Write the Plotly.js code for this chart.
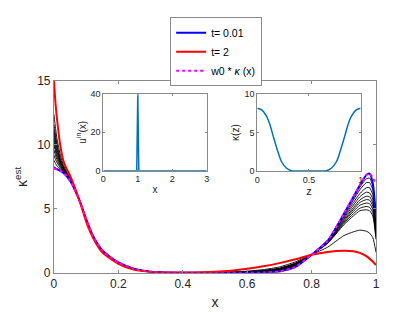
<!DOCTYPE html>
<html><head><meta charset="utf-8">
<script src="https://cdn.plot.ly/plotly-3.0.1.min.js"></script>
<style>html,body{margin:0;padding:0;background:#fff}#chart{width:415px;height:312px}</style>
</head><body><div id="chart"></div>
<script>
// main x grid
const X = [0,0.005,0.01,0.02,0.03,0.04,0.05,0.06,0.08,0.1,0.12,0.15,0.2,0.25,0.3,0.35,0.4,0.5,0.55,0.6,0.65,0.7,0.75,0.8,0.85,0.9,0.93,0.95,0.97,0.98,0.99,1];
const blueT001 = [8.25,8.15,8.1,7.98,7.8,7.55,7.2,6.75,5.6,4.2,2.95,1.75,0.8,0.3,0.08,0.01,0,0,0,0,0.01,0.1,0.45,1.4,2.5,4.6,5.95,6.85,7.65,7.75,7.0,4.3];
const redT2 = [15,13.2,11.9,9.9,8.7,8.1,7.6,7.0,5.6,4.0,2.8,1.6,0.7,0.22,0.06,0.02,0.02,0.08,0.16,0.3,0.5,0.75,1.05,1.4,1.62,1.72,1.68,1.55,1.3,1.1,0.88,0.6];
const w0kappa = [8.15,8.13,8.1,7.98,7.8,7.55,7.2,6.75,5.6,4.2,2.95,1.75,0.8,0.3,0.08,0.01,0,0,0,0,0.01,0.1,0.45,1.4,2.5,4.6,5.95,6.85,7.65,7.78,7.4,7.0];
const b1 = [8.8,8.55,8.35,8.1,7.85,7.58,7.22,6.77,5.6,4.18,2.93,1.74,0.79,0.3,0.08,0.01,0,0,0,0.01,0.02,0.12,0.48,1.4,2.5,4.55,5.85,6.7,7.35,7.4,6.8,4.2];
const b2 = [9.2,8.85,8.6,8.2,7.9,7.6,7.23,6.78,5.6,4.17,2.92,1.73,0.78,0.29,0.08,0.01,0,0,0.01,0.02,0.04,0.15,0.52,1.4,2.48,4.45,5.7,6.5,7.05,7.05,6.5,4.0];
const b3 = [9.6,9.15,8.8,8.3,7.95,7.62,7.25,6.8,5.6,4.16,2.91,1.72,0.78,0.29,0.08,0.01,0,0.01,0.01,0.03,0.06,0.18,0.56,1.4,2.45,4.35,5.5,6.2,6.65,6.65,6.1,3.8];
const b4 = [10.0,9.45,9.0,8.4,8.0,7.65,7.27,6.82,5.6,4.15,2.9,1.71,0.77,0.28,0.07,0.01,0,0.01,0.02,0.04,0.08,0.21,0.6,1.4,2.43,4.25,5.3,5.95,6.3,6.25,5.75,3.6];
const b5 = [10.3,9.7,9.2,8.5,8.05,7.68,7.3,6.84,5.6,4.14,2.9,1.71,0.77,0.28,0.07,0.01,0,0.01,0.02,0.05,0.1,0.24,0.63,1.41,2.4,4.15,5.1,5.7,5.98,5.95,5.45,3.4];
const b6 = [10.6,9.95,9.4,8.6,8.1,7.7,7.32,6.86,5.6,4.13,2.89,1.7,0.76,0.28,0.07,0.01,0.01,0.01,0.03,0.06,0.12,0.27,0.67,1.41,2.38,4.05,4.95,5.5,5.72,5.68,5.2,3.2];
const b7 = [10.9,10.2,9.6,8.7,8.15,7.72,7.34,6.88,5.6,4.12,2.89,1.7,0.76,0.27,0.07,0.01,0.01,0.01,0.03,0.07,0.14,0.3,0.7,1.41,2.35,3.95,4.8,5.28,5.45,5.4,4.95,3.0];
const b8 = [11.2,10.45,9.8,8.8,8.2,7.75,7.36,6.9,5.6,4.12,2.88,1.69,0.76,0.27,0.07,0.01,0.01,0.01,0.04,0.08,0.16,0.33,0.73,1.42,2.32,3.85,4.62,5.05,5.18,5.12,4.7,2.8];
const b9 = [11.6,10.75,10.0,8.95,8.28,7.8,7.4,6.92,5.6,4.11,2.88,1.69,0.75,0.27,0.07,0.01,0.01,0.01,0.04,0.09,0.18,0.36,0.76,1.42,2.3,3.75,4.45,4.85,4.92,4.85,4.45,2.6];
const b10 = [12.4,11.3,10.4,9.2,8.4,7.88,7.45,6.95,5.6,4.1,2.87,1.68,0.75,0.27,0.07,0.01,0.01,0.02,0.05,0.12,0.24,0.45,0.85,1.42,2.0,2.9,3.2,3.33,3.25,3.1,2.75,1.6];
const blackCurves = [b1,b2,b3,b4,b5,b6,b7,b8,b9,b10];

// inset 1: u^in(x)
const uinX = [0,0.97,1.0,1.03,3];
const uinY = [0,0,40,0,0];
// inset 2: kappa(z)
const zVals = [0,0.042,0.09,0.123,0.155,0.194,0.235,0.284,0.33,0.4,0.5,0.6,0.67,0.716,0.765,0.806,0.845,0.877,0.91,0.958,1];
const kVals = [8.17,7.96,7.1,6.0,4.48,2.74,1.2,0.35,0.04,0,0,0,0.04,0.35,1.2,2.74,4.48,6.0,7.1,7.96,8.17];

const legendNames = ['t= 0.01','t= 2','w0 * <i>κ</i> (x)'];

const F = 'Liberation Sans, Arial, Helvetica, sans-serif';
const traces = [];
blackCurves.forEach(c => traces.push({x:X, y:c, type:'scatter', mode:'lines', line:{color:'#000', width:0.9, shape:'spline', smoothing:0.6}, showlegend:false, hoverinfo:'skip'}));
traces.push({x:X, y:blueT001, type:'scatter', mode:'lines', name:legendNames[0], line:{color:'#0000FF', width:2, shape:'spline', smoothing:0.6}});
traces.push({x:X, y:redT2, type:'scatter', mode:'lines', name:legendNames[1], line:{color:'#FF0000', width:2, shape:'spline', smoothing:0.6}});
traces.push({x:X, y:w0kappa, type:'scatter', mode:'lines', name:legendNames[2], line:{color:'#FF00FF', width:2, dash:'dot', shape:'spline', smoothing:0.6}});
traces.push({x:uinX, y:uinY, xaxis:'x2', yaxis:'y2', type:'scatter', mode:'lines', line:{color:'#0072BD', width:1.5}, showlegend:false});
traces.push({x:zVals, y:kVals, xaxis:'x3', yaxis:'y3', type:'scatter', mode:'lines', line:{color:'#0072BD', width:1.5, shape:'spline'}, showlegend:false});

const axBase = {showgrid:false, zeroline:false, showline:true, linecolor:'#8a8a8a', linewidth:1, mirror:'ticks', ticks:'inside', ticklen:3, tickcolor:'#8a8a8a', tickfont:{family:F, size:12, color:'#262626'}};
const inBase = Object.assign({}, axBase, {ticklen:2, tickfont:{family:F, size:9, color:'#262626'}});

const layout = {
  width:415, height:312, margin:{l:0,r:0,t:0,b:0},
  paper_bgcolor:'#fff', plot_bgcolor:'rgba(0,0,0,0)',
  font:{family:F, color:'#262626'},
  xaxis: Object.assign({}, axBase, {domain:[0.130,0.906], range:[0,1], tickvals:[0,0.2,0.4,0.6,0.8,1], ticktext:['0','0.2','0.4','0.6','0.8','1'], title:{text:'x', font:{family:F, size:14, color:'#262626'}, standoff:7}, anchor:'y'}),
  yaxis: Object.assign({}, axBase, {domain:[0.126,0.740], range:[0,15], tickvals:[0,5,10,15], title:{text:'κ<sup>est</sup>', font:{family:F, size:14, color:'#262626'}, standoff:6}, anchor:'x'}),
  xaxis2: Object.assign({}, inBase, {domain:[0.249,0.498], range:[0,3], tickvals:[0,1,2,3], anchor:'y2', title:{text:'x', font:{family:F, size:10, color:'#262626'}, standoff:2}}),
  yaxis2: Object.assign({}, inBase, {domain:[0.453,0.699], range:[0,40], tickvals:[0,20,40], anchor:'x2', title:{text:'u<sup>in</sup>(x)', font:{family:F, size:10, color:'#262626'}, standoff:2}}),
  xaxis3: Object.assign({}, inBase, {domain:[0.620,0.869], range:[0,1], tickvals:[0,0.5,1], ticktext:['0','0.5','1'], anchor:'y3', title:{text:'z', font:{family:F, size:11, color:'#262626'}, standoff:2}}),
  yaxis3: Object.assign({}, inBase, {domain:[0.452,0.698], range:[0,10], tickvals:[0,5,10], anchor:'x3', title:{text:'κ(z)', font:{family:F, size:10, color:'#262626'}, standoff:2}}),
  showlegend:true,
  legend:{x:0.41, y:0.945, xanchor:'left', yanchor:'top', bgcolor:'#fff', bordercolor:'#8a8a8a', borderwidth:1, font:{family:F, size:10.5, color:'#000'}, tracegroupgap:0, itemwidth:30}
};
Plotly.newPlot('chart', traces, layout, {staticPlot:true, displayModeBar:false});
</script></body></html>
